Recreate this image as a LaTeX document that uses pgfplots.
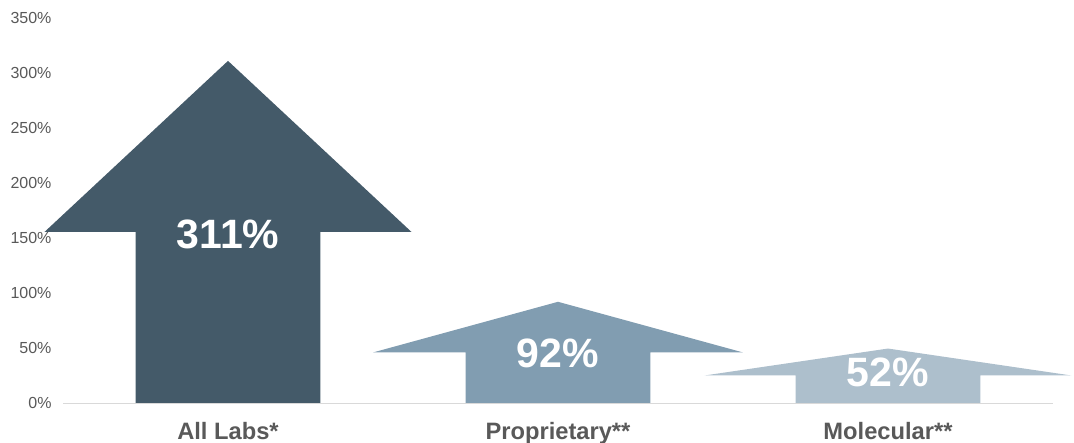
\documentclass[border=0pt]{standalone}
\usepackage{pgfplots}
\pgfplotsset{compat=1.18}
\usepackage{fontspec}
\setmainfont{Liberation Sans}
\definecolor{c1}{HTML}{445A69}
\definecolor{c2}{HTML}{819DB1}
\definecolor{c3}{HTML}{ADBFCC}
\definecolor{txt}{HTML}{595959}
\definecolor{axl}{HTML}{D9D9D9}
\begin{document}
\begin{tikzpicture}
\begin{axis}[
  set layers,
  scale only axis,
  width=990bp, height=385bp,
  xmin=-0.5, xmax=2.5,
  ymin=0, ymax=350,
  clip=false,
  axis x line*=bottom,
  axis y line*=left,
  x axis line style={draw=axl, line width=0.8pt},
  y axis line style={draw=none},
  major tick length=0pt,
  xtick={0,1,2},
  xticklabels={All Labs*, Proprietary**, Molecular**},
  xticklabel style={font=\fontsize{23.7bp}{26bp}\selectfont\bfseries, text=txt, yshift=-16bp},
  ytick={0,50,100,150,200,250,300,350},
  yticklabel={\pgfmathprintnumber{\tick}\%},
  /pgf/number format/assume math mode=true,
  yticklabel style={font=\fontsize{16bp}{18bp}\selectfont, text=txt, xshift=-8bp},
]
\addplot[fill=c1, draw=none] coordinates {(-0.28,0) (-0.28,155.5) (-0.556,155.5) (0,311) (0.556,155.5) (0.28,155.5) (0.28,0)} -- cycle;
\addplot[fill=c2, draw=none] coordinates {(0.72,0) (0.72,46) (0.44,46) (1,92) (1.56,46) (1.28,46) (1.28,0)} -- cycle;
\addplot[fill=c3, draw=none] coordinates {(1.72,0) (1.72,25) (1.444,25) (2,49.5) (2.556,25) (2.28,25) (2.28,0)} -- cycle;
\node[text=white, font=\fontsize{41bp}{44bp}\selectfont\bfseries] at (axis cs:0,153) {311\%};
\node[text=white, font=\fontsize{41bp}{44bp}\selectfont\bfseries] at (axis cs:1,45) {92\%};
\node[text=white, font=\fontsize{41bp}{44bp}\selectfont\bfseries] at (axis cs:2,28) {52\%};
\coordinate (bl) at (rel axis cs:0,0);
\coordinate (tr) at (rel axis cs:1,1);
\end{axis}
\pgfresetboundingbox
\path ([shift={(-63bp,-40bp)}]bl) rectangle ([shift={(21bp,18bp)}]tr);
\end{tikzpicture}
\end{document}
